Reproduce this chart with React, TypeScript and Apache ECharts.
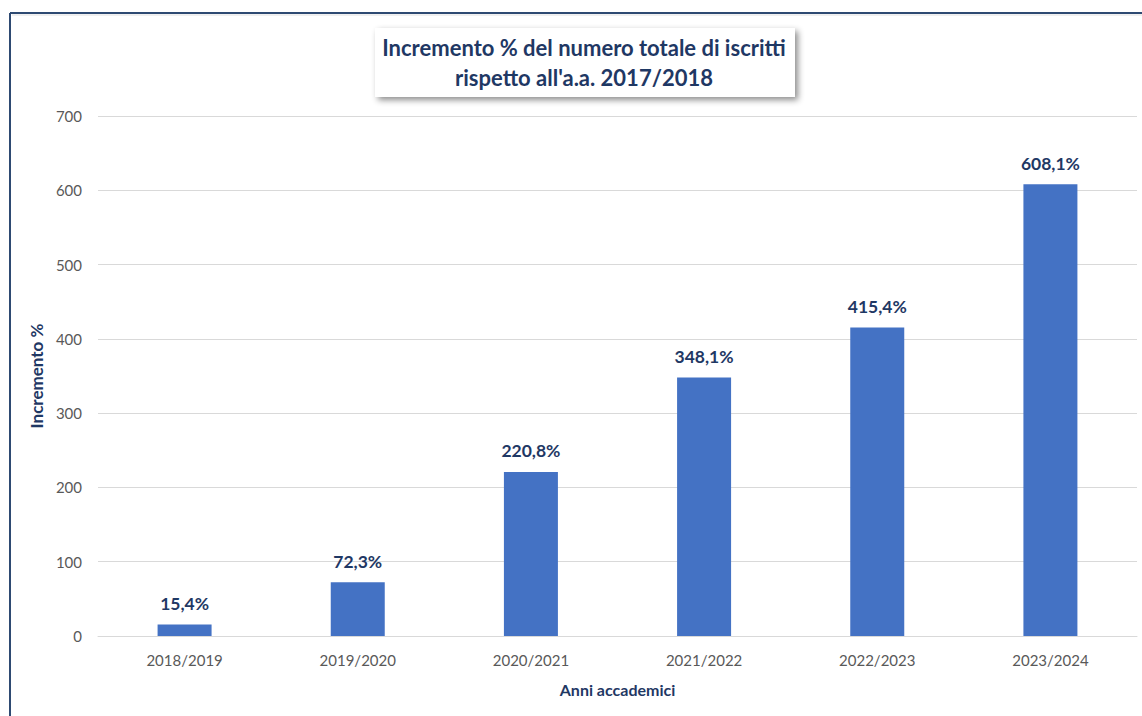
import React, { useEffect, useRef } from "react";
import * as echarts from "echarts";

const categories = ["2018/2019", "2019/2020", "2020/2021", "2021/2022", "2022/2023", "2023/2024"];
const values = [15.4, 72.3, 220.8, 348.1, 415.4, 608.1];
const titleLines = ["Incremento % del numero totale di iscritti", "rispetto all'a.a. 2017/2018"];
const yAxisName = "Incremento %";
const xAxisName = "Anni accademici";

const FONT = "Lato, 'Open Sans', sans-serif";
const NAVY = "#1F3864";

export default function App() {
  const ref = useRef<HTMLDivElement>(null);
  useEffect(() => {
    if (!ref.current) return;
    const chart = echarts.init(ref.current, null, { renderer: "svg" });
    chart.setOption({
      animation: false,
      backgroundColor: "#ffffff",
      grid: { left: 98, right: 5, top: 116, bottom: 80, containLabel: false },
      xAxis: {
        type: "category",
        data: categories,
        axisLine: { lineStyle: { color: "#D9D9D9", width: 1 } },
        axisTick: { show: false },
        axisLabel: { color: "#595959", fontSize: 15, fontFamily: FONT, margin: 16 },
        name: xAxisName,
        nameLocation: "middle",
        nameGap: 45,
        nameTextStyle: { color: NAVY, fontSize: 16, fontWeight: "bold", fontFamily: FONT },
      },
      yAxis: {
        type: "value",
        min: 0,
        max: 700,
        interval: 100,
        axisLine: { show: false },
        axisTick: { show: false },
        splitLine: { lineStyle: { color: "#D9D9D9", width: 1 } },
        axisLabel: { color: "#595959", fontSize: 15, fontFamily: FONT, margin: 16 },
        name: yAxisName,
        nameLocation: "middle",
        nameGap: 47,
        nameRotate: 90,
        nameTextStyle: { color: NAVY, fontSize: 17, fontWeight: "bold", fontFamily: FONT },
      },
      series: [
        {
          type: "bar",
          data: values,
          barWidth: 54,
          itemStyle: { color: "#4472C4" },
          label: {
            show: true,
            position: "top",
            distance: 12,
            color: NAVY,
            fontSize: 17.5,
            fontWeight: "bold",
            fontFamily: FONT,
            formatter: (p: any) => String(p.value.toFixed(1)).replace(".", ",") + "%",
          },
        },
      ],
      graphic: [
        {
          type: "line",
          shape: { x1: 10, y1: 13, x2: 1142, y2: 13 },
          style: { stroke: "#2E4A72", lineWidth: 2 },
          z: 100,
        },
        {
          type: "line",
          shape: { x1: 10, y1: 13, x2: 10, y2: 716 },
          style: { stroke: "#2E4A72", lineWidth: 2 },
          z: 100,
        },
        {
          type: "line",
          shape: { x1: 12, y1: 15, x2: 1142, y2: 15 },
          style: { stroke: "#E0E0E0", lineWidth: 1 },
          z: 99,
        },
        {
          type: "rect",
          shape: { x: 375, y: 28, width: 420, height: 69 },
          style: {
            fill: "#ffffff",
            shadowBlur: 6,
            shadowOffsetX: 3,
            shadowOffsetY: 3,
            shadowColor: "rgba(0,0,0,0.45)",
          },
          z: 50,
        },
        {
          type: "text",
          x: 584,
          y: 47,
          style: {
            text: titleLines[0],
            fill: NAVY,
            font: "bold 22px " + FONT,
            align: "center",
            verticalAlign: "middle",
          },
          z: 51,
        },
        {
          type: "text",
          x: 584,
          y: 77,
          style: {
            text: titleLines[1],
            fill: NAVY,
            font: "bold 22px " + FONT,
            align: "center",
            verticalAlign: "middle",
          },
          z: 51,
        },
      ],
    });
    return () => chart.dispose();
  }, []);
  return (
    <div
      ref={ref}
      style={{ position: "fixed", left: 0, top: 0, width: 1142, height: 716 }}
    />
  );
}
